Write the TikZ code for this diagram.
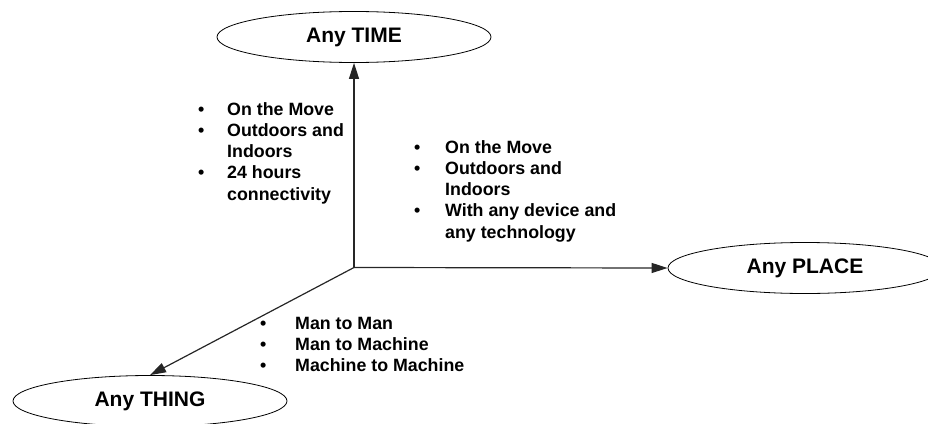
\documentclass[tikz,border=0pt]{standalone}
\usepackage{fontspec}
\setmainfont{Liberation Sans}
\usetikzlibrary{shapes.geometric,arrows.meta}
\newcommand{\bulletlist}[2]{%
  \fontsize{17.8}{21.3}\selectfont\bfseries
  \begin{tabular}[t]{@{}p{#1}@{}l@{}}#2\end{tabular}}
\begin{document}
\begin{tikzpicture}[x=1pt,y=1pt,
  axis/.style={draw=black!85,line width=1.2pt,
    -{Triangle[length=16pt,width=10pt]}},
  bubble/.style={ellipse,draw=black,line width=0.8pt,inner sep=0pt,
    minimum width=274pt,minimum height=51pt,
    font=\fontsize{21}{25}\selectfont\bfseries},
  listtext/.style={anchor=base west,inner sep=0pt}]
\useasboundingbox (0,0) rectangle (928,-423);

% the three end points
\node[bubble] (time)  at (354,-37)  {Any TIME};
\node[bubble] (place) at (805,-268) {Any PLACE};
\node[bubble] (thing) at (150,-401) {Any THING};

% common origin of the three axes
\coordinate (o) at (354,-267.5);
\draw[axis] (o) -- (time.south);
\draw[axis] (o) -- (place.west);
\draw[axis] (o) -- (thing.north);

% notes beside the axes
\node[listtext] (timenotes) at (198,-115) {\bulletlist{29pt}{%
  •&On the Move\\
  •&Outdoors and\\
   &Indoors\\
  •&24 hours\\
   &connectivity}};
\node[listtext] (placenotes) at (414,-153) {\bulletlist{31pt}{%
  •&On the Move\\
  •&Outdoors and\\
   &Indoors\\
  •&With any device and\\
   &any technology}};
\node[listtext] (thingnotes) at (260,-329) {\bulletlist{35pt}{%
  •&Man to Man\\
  •&Man to Machine\\
  •&Machine to Machine}};
\end{tikzpicture}
\end{document}
